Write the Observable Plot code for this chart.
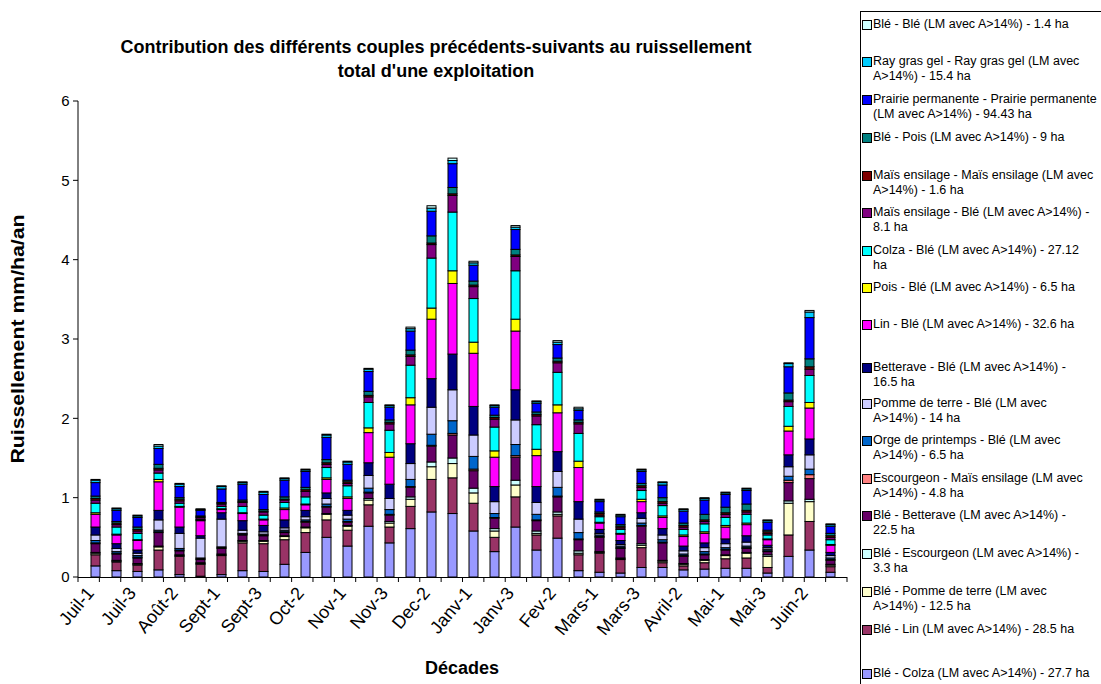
<!DOCTYPE html>
<html><head><meta charset="utf-8">
<script src="https://cdn.jsdelivr.net/npm/d3@7"></script>
<script src="https://cdn.jsdelivr.net/npm/@observablehq/plot@0.6"></script>
<style>
body{margin:0;background:#fff;font-family:Arial,"Liberation Sans",sans-serif;}
#wrap{position:relative;width:1101px;height:684px;overflow:hidden;background:#fff;}
#plot{position:absolute;left:0;top:0;}
.title{position:absolute;left:86px;width:700px;text-align:center;font-weight:bold;font-size:18px;top:35px;line-height:24px;}
.ylab{position:absolute;font-weight:bold;font-size:18px;white-space:nowrap;left:18px;top:339px;transform:translate(-50%,-50%) rotate(-90deg) scaleX(1.18);}
.xlab{position:absolute;font-weight:bold;font-size:18px;left:462px;top:668px;transform:translate(-50%,-50%);}
#legend{position:absolute;left:860px;top:11px;width:260px;height:700px;border:1px solid #000;box-sizing:border-box;}
.item{position:absolute;left:12px;font-size:12.5px;line-height:15px;white-space:pre;}
.sw{position:absolute;left:-11px;top:3px;width:8px;height:8px;border:1px solid #000;}
</style></head>
<body><div id="wrap">
<div id="plot"></div>
<div class="title">Contribution des différents couples précédents-suivants au ruissellement<br>total d'une exploitation</div>
<div class="ylab">Ruissellement mm/ha/an</div>
<div class="xlab">Décades</div>
<div id="legend"></div>
</div>
<script>
const decades = ["Juil-1","Juil-2","Juil-3","Août-1","Août-2","Août-3","Sept-1","Sept-2","Sept-3","Oct-1","Oct-2","Oct-3","Nov-1","Nov-2","Nov-3","Dec-1","Dec-2","Dec-3","Janv-1","Janv-2","Janv-3","Fev-1","Fev-2","Fev-3","Mars-1","Mars-2","Mars-3","Avril-1","Avril-2","Avril-3","Mai-1","Mai-2","Mai-3","Juin-1","Juin-2","Juin-3"];
const xTickLabels = decades.filter((d, i) => i % 2 === 0);
const yTicks = [0,1,2,3,4,5,6];

// series, bottom of stack first
const legendLabels = [
 "Blé - Colza (LM avec A>14%) - 27.7 ha",
 "Blé - Lin (LM avec A>14%) - 28.5 ha",
 "Blé - Pomme de terre (LM avec\nA>14%) - 12.5 ha",
 "Blé - Escourgeon (LM avec A>14%) -\n3.3 ha",
 "Blé - Betterave (LM avec A>14%) -\n22.5 ha",
 "Escourgeon - Maïs ensilage (LM avec\nA>14%) - 4.8 ha",
 "Orge de printemps - Blé (LM avec\nA>14%) - 6.5 ha",
 "Pomme de terre - Blé (LM avec\nA>14%) - 14 ha",
 "Betterave - Blé (LM avec A>14%) -\n16.5 ha",
 "Lin - Blé (LM avec A>14%) - 32.6 ha",
 "Pois - Blé (LM avec A>14%) - 6.5 ha",
 "Colza - Blé (LM avec A>14%) - 27.12\nha",
 "Maïs ensilage - Blé (LM avec A>14%) -\n8.1 ha",
 "Maïs ensilage - Maïs ensilage (LM avec\nA>14%) - 1.6 ha",
 "Blé - Pois (LM avec A>14%) - 9 ha",
 "Prairie permanente - Prairie permanente\n(LM avec A>14%) - 94.43 ha",
 "Ray gras gel - Ray gras gel (LM avec\nA>14%) - 15.4 ha",
 "Blé - Blé (LM avec A>14%) - 1.4 ha"
];
const seriesNames = legendLabels.map(s => s.replace("\n", " "));

const bleColza = [0.14,0.08,0.07,0.09,0.03,0.01,0.03,0.08,0.07,0.16,0.31,0.50,0.39,0.64,0.43,0.61,0.82,0.80,0.58,0.32,0.63,0.34,0.49,0.08,0.06,0.05,0.12,0.12,0.09,0.10,0.11,0.11,0.05,0.26,0.34,0.06];
const bleLin = [0.14,0.11,0.08,0.25,0.23,0.15,0.24,0.35,0.35,0.31,0.25,0.22,0.20,0.27,0.20,0.28,0.41,0.45,0.35,0.18,0.38,0.19,0.28,0.20,0.24,0.17,0.25,0.06,0.05,0.08,0.12,0.13,0.07,0.27,0.36,0.07];
const blePdt = [0.02,0.01,0.01,0.04,0.01,0.01,0.01,0.02,0.03,0.04,0.06,0.07,0.05,0.06,0.05,0.09,0.16,0.18,0.13,0.08,0.15,0.02,0.02,0.02,0.01,0.01,0.03,0.02,0.02,0.03,0.04,0.06,0.14,0.40,0.25,0.02];
const bleEscourgeon = [0.01,0.01,0.01,0.01,0.01,0.01,0.01,0.01,0.01,0.01,0.01,0.01,0.01,0.02,0.02,0.03,0.06,0.07,0.06,0.03,0.06,0.03,0.03,0.03,0.01,0.01,0.02,0.01,0.01,0.01,0.01,0.01,0.02,0.03,0.03,0.01];
const bleBetterave = [0.11,0.08,0.07,0.17,0.05,0.04,0.07,0.07,0.06,0.04,0.06,0.08,0.04,0.07,0.08,0.12,0.20,0.29,0.22,0.13,0.29,0.13,0.19,0.14,0.18,0.12,0.22,0.22,0.09,0.06,0.06,0.05,0.04,0.23,0.26,0.05];
const escourgeonMais = [0.01,0.01,0.01,0.01,0.01,0.01,0.01,0.01,0.01,0.01,0.01,0.01,0.01,0.01,0.01,0.01,0.01,0.02,0.02,0.01,0.02,0.01,0.01,0.01,0.01,0.01,0.01,0.01,0.01,0.01,0.01,0.01,0.01,0.03,0.05,0.01];
const orgeBle = [0.03,0.02,0.02,0.02,0.02,0.01,0.01,0.01,0.01,0.02,0.02,0.03,0.03,0.05,0.06,0.09,0.14,0.16,0.16,0.05,0.14,0.07,0.11,0.08,0.02,0.02,0.03,0.03,0.02,0.03,0.02,0.02,0.02,0.05,0.07,0.02];
const pdtBle = [0.07,0.04,0.03,0.13,0.19,0.25,0.35,0.04,0.03,0.03,0.04,0.07,0.05,0.16,0.14,0.20,0.34,0.39,0.27,0.15,0.31,0.15,0.20,0.17,0.02,0.02,0.06,0.06,0.04,0.05,0.05,0.05,0.02,0.12,0.18,0.03];
const betteraveBle = [0.10,0.06,0.04,0.12,0.08,0.03,0.08,0.12,0.08,0.10,0.08,0.07,0.06,0.16,0.18,0.25,0.36,0.45,0.36,0.19,0.38,0.20,0.25,0.22,0.05,0.05,0.07,0.08,0.06,0.06,0.06,0.08,0.03,0.15,0.20,0.04];
const linBle = [0.16,0.11,0.12,0.36,0.25,0.19,0.04,0.09,0.07,0.13,0.07,0.17,0.15,0.38,0.34,0.49,0.75,0.89,0.67,0.37,0.74,0.39,0.49,0.43,0.08,0.08,0.14,0.14,0.12,0.12,0.15,0.14,0.07,0.30,0.39,0.09];
const poisBle = [0.02,0.01,0.01,0.03,0.01,0.01,0.01,0.01,0.01,0.02,0.01,0.02,0.02,0.06,0.06,0.09,0.14,0.16,0.14,0.08,0.15,0.08,0.10,0.08,0.01,0.01,0.03,0.02,0.02,0.02,0.02,0.02,0.01,0.06,0.07,0.01];
const colzaBle = [0.12,0.09,0.08,0.08,0.04,0.01,0.03,0.08,0.05,0.07,0.09,0.13,0.14,0.32,0.28,0.41,0.63,0.74,0.55,0.30,0.61,0.31,0.41,0.35,0.07,0.05,0.11,0.13,0.07,0.10,0.10,0.11,0.05,0.25,0.34,0.06];
const maisBle = [0.04,0.03,0.03,0.04,0.03,0.02,0.03,0.05,0.04,0.03,0.07,0.04,0.03,0.07,0.08,0.11,0.17,0.21,0.15,0.10,0.18,0.11,0.12,0.12,0.02,0.02,0.04,0.03,0.03,0.03,0.04,0.03,0.02,0.06,0.08,0.03];
const maisMais = [0.02,0.02,0.02,0.02,0.02,0.01,0.01,0.01,0.01,0.01,0.02,0.02,0.02,0.02,0.02,0.02,0.02,0.02,0.02,0.02,0.02,0.02,0.02,0.02,0.02,0.02,0.02,0.02,0.02,0.02,0.02,0.02,0.02,0.02,0.03,0.02];
const blePois = [0.03,0.02,0.03,0.05,0.02,0.01,0.01,0.02,0.02,0.03,0.03,0.04,0.02,0.05,0.03,0.06,0.09,0.08,0.05,0.03,0.07,0.03,0.04,0.03,0.02,0.02,0.03,0.05,0.03,0.07,0.07,0.08,0.02,0.09,0.10,0.03];
const prairie = [0.17,0.14,0.12,0.20,0.14,0.07,0.17,0.20,0.19,0.21,0.20,0.28,0.20,0.25,0.16,0.24,0.31,0.30,0.20,0.10,0.25,0.11,0.17,0.12,0.13,0.10,0.15,0.16,0.15,0.18,0.16,0.17,0.10,0.33,0.52,0.09];
const rayGras = [0.03,0.02,0.02,0.03,0.03,0.01,0.03,0.02,0.03,0.02,0.02,0.03,0.03,0.03,0.02,0.03,0.04,0.04,0.03,0.02,0.03,0.02,0.03,0.02,0.02,0.02,0.02,0.03,0.02,0.02,0.02,0.02,0.02,0.04,0.07,0.02];
const bleBle = [0.01,0.01,0.01,0.02,0.01,0.01,0.01,0.01,0.01,0.01,0.01,0.01,0.01,0.01,0.01,0.02,0.03,0.03,0.02,0.01,0.02,0.01,0.02,0.02,0.01,0.01,0.01,0.01,0.01,0.01,0.01,0.01,0.01,0.01,0.02,0.01];

const seriesValues = [bleColza, bleLin, blePdt, bleEscourgeon, bleBetterave, escourgeonMais, orgeBle, pdtBle, betteraveBle, linBle, poisBle, colzaBle, maisBle, maisMais, blePois, prairie, rayGras, bleBle];
const colors = ["#9999FF","#993366","#FFFFCC","#CCFFFF","#660066","#FF8080","#0066CC","#CCCCFF","#000080","#FF00FF","#FFFF00","#00FFFF","#800080","#800000","#008080","#0000FF","#00CCFF","#CCFFFF"];

const rows = [];
decades.forEach((d, i) => seriesNames.forEach((s, j) => rows.push({decade: d, serie: s, value: seriesValues[j][i]})));

const chart = Plot.plot({
  width: 860, height: 684,
  marginLeft: 78, marginRight: 13, marginTop: 101, marginBottom: 107,
  style: {fontFamily: 'Arial, "Liberation Sans", sans-serif', color: "black", background: "white", overflow: "visible"},
  x: {domain: decades, paddingInner: 0.58, paddingOuter: 0.29, axis: null},
  y: {domain: [0, 6], axis: null},
  color: {domain: seriesNames, range: colors},
  marks: [
    Plot.barY(rows, {x: "decade", y: "value", fill: "serie", stroke: "black", strokeWidth: 1}),
    Plot.ruleY([0], {stroke: "black"}),
    Plot.text(xTickLabels, {x: d => d, frameAnchor: "bottom", dx: -1, dy: 16, rotate: -50, textAnchor: "end", fontSize: 18, fill: "black"}),
    Plot.text(yTicks, {y: d => d, frameAnchor: "left", dx: -9, textAnchor: "end", fontSize: 15, fill: "black", text: d => String(d)})
  ]
});
document.getElementById("plot").appendChild(chart);

const svg = d3.select(chart);
const xs = chart.scale("x"), ys = chart.scale("y");
const r0 = xs.range[0], r1 = xs.range[1];
// y axis line and ticks
svg.append("line").attr("x1", r0).attr("x2", r0).attr("y1", ys.apply(6)).attr("y2", ys.apply(0)).attr("stroke", "black");
yTicks.forEach(v => svg.append("line").attr("x1", r0 - 5).attr("x2", r0).attr("y1", ys.apply(v)).attr("y2", ys.apply(v)).attr("stroke", "black"));
// category boundary ticks
const step = (r1 - r0) / decades.length;
for (let i = 0; i <= decades.length; i++) {
  svg.append("line").attr("x1", r0 + i * step).attr("x2", r0 + i * step).attr("y1", ys.apply(0)).attr("y2", ys.apply(0) + 5).attr("stroke", "black");
}

// legend (top item = last series)
const legendTops = [24, 61, 99, 137, 175, 212, 250, 287, 324, 367, 403, 440, 478, 515, 553, 591, 629, 673];
const legend = document.getElementById("legend");
[...legendLabels].reverse().forEach((lab, k) => {
  const j = legendLabels.length - 1 - k;
  const it = document.createElement("div");
  it.className = "item";
  it.style.top = (legendTops[k] - 11 - 8) + "px";
  it.textContent = lab;
  const sw = document.createElement("span");
  sw.className = "sw";
  sw.style.background = colors[j];
  it.appendChild(sw);
  legend.appendChild(it);
});
</script>
</body></html>
